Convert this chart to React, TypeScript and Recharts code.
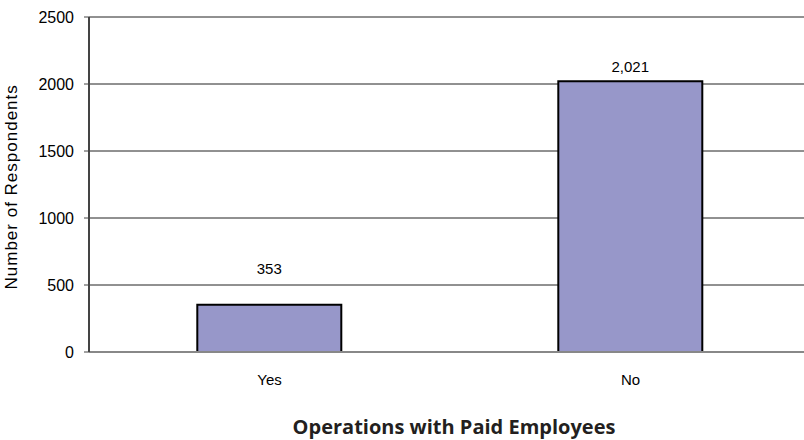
import { BarChart, Bar, XAxis, YAxis, CartesianGrid, LabelList } from "recharts";

const categories = ["Yes", "No"];
const respondents = [353, 2021];
const valueLabels = ["353", "2,021"];
const yTicks = [0, 500, 1000, 1500, 2000, 2500];

const data = categories.map((c, i) => ({ name: c, value: respondents[i], label: valueLabels[i] }));

const FONT = "Liberation Sans, Arial, sans-serif";

// the reference puts the small bar's label higher than the tall one
const labelLift = [31, 9];

function ValueLabel(props: any) {
  const { x, y, width, index } = props;
  return (
    <text x={x + width / 2} y={y - labelLift[index]} textAnchor="middle"
      fontFamily={FONT} fontSize={15} fill="#000">
      {valueLabels[index]}
    </text>
  );
}

export default function App() {
  return (
    <div style={{ position: "absolute", left: 0, top: 0, width: 804, height: 440, overflow: "hidden", background: "#fff" }}>
      <BarChart width={820} height={440} data={data} barCategoryGap="30%"
        margin={{ top: 17, right: 9, left: 0, bottom: 48 }}>
        <CartesianGrid vertical={false} stroke="#222" strokeWidth={1} />
        <XAxis dataKey="name" height={40} axisLine={{ stroke: "#888", strokeWidth: 2 }} tickLine={false}
          tick={{ fontFamily: FONT, fontSize: 15, fill: "#000" }} dy={14} />
        <XAxis xAxisId="edges" type="number" domain={[0, 2]} ticks={[0, 1, 2]}
          height={0} axisLine={false} tick={false} tickLine={{ stroke: "#444" }} tickSize={5} />
        <YAxis domain={[0, 2500]} ticks={yTicks} width={89} interval={0}
          axisLine={{ stroke: "#444", strokeWidth: 2 }} tickLine={{ stroke: "#444" }} tickSize={5} tickMargin={10}
          tick={{ fontFamily: FONT, fontSize: 16, fill: "#000" }}
          label={{ value: "Number of Respondents", angle: -90, position: "insideLeft", dx: 6, dy: 105,
            style: { fontFamily: FONT, fontSize: 17, letterSpacing: 1, fill: "#000" } }} />
        <Bar dataKey="value" fill="#9797C9" stroke="#000" strokeWidth={2} isAnimationActive={false}>
          <LabelList dataKey="label" content={<ValueLabel />} />
        </Bar>
      </BarChart>
      <div style={{ position: "absolute", left: 0, width: 908, top: 413, textAlign: "center",
        fontFamily: "Open Sans, sans-serif", fontWeight: 700, fontSize: 20, color: "#231f20", lineHeight: "28px" }}>
        Operations with Paid Employees
      </div>
    </div>
  );
}
